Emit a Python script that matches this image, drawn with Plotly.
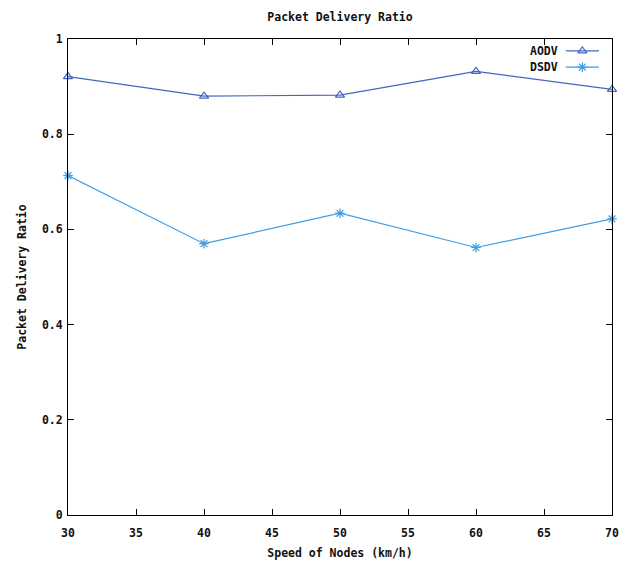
import plotly.graph_objects as go

speeds = [30, 40, 50, 60, 70]
aodv = [0.921, 0.880, 0.882, 0.932, 0.894]
dsdv = [0.713, 0.570, 0.634, 0.562, 0.622]
x_ticks = [30, 35, 40, 45, 50, 55, 60, 65, 70]
y_ticks = [0, 0.2, 0.4, 0.6, 0.8, 1]
y_tick_text = ["0", "0.2", "0.4", "0.6", "0.8", "1"]
legend_names = ["AODV", "DSDV"]

AODV_C = "#4466c0"
DSDV_C = "#3d9ee6"
FONT = dict(family="DejaVu Sans Mono", size=11.5, color="#111111", weight="bold")

fig = go.Figure()
fig.add_trace(go.Scatter(x=speeds, y=aodv, mode="lines+markers", name="AODV",
                         line=dict(color=AODV_C, width=1.2),
                         marker=dict(symbol="triangle-up-open", size=8, color=AODV_C, line=dict(width=1.2)),
                         showlegend=False, cliponaxis=False))
fig.add_trace(go.Scatter(x=speeds, y=dsdv, mode="lines+markers", name="DSDV",
                         line=dict(color=DSDV_C, width=1.2),
                         marker=dict(symbol="asterisk-open", size=8, color=DSDV_C, line=dict(width=1.2, color=DSDV_C)),
                         showlegend=False, cliponaxis=False))

# legend keys drawn on an overlay axis spanning the plot area (0..1)
leg_x = [0.915, 0.976]
leg_y = [0.975, 0.941]
symbols = ["triangle-up-open", "asterisk-open"]
colors = [AODV_C, DSDV_C]
for name, yy, sym, col in zip(legend_names, leg_y, symbols, colors):
    fig.add_trace(go.Scatter(x=leg_x, y=[yy, yy], xaxis="x2", yaxis="y2", mode="lines",
                             line=dict(color=col, width=1.2), showlegend=False, hoverinfo="skip"))
    fig.add_trace(go.Scatter(x=[sum(leg_x) / 2], y=[yy], xaxis="x2", yaxis="y2", mode="markers",
                             marker=dict(symbol=sym, size=8, color=col, line=dict(width=1.2, color=col)),
                             showlegend=False, hoverinfo="skip"))
    fig.add_annotation(text=name, x=0.904, y=yy, xref="x2", yref="y2", xanchor="right",
                       yanchor="middle", showarrow=False, font=FONT)

axis_common = dict(showgrid=False, zeroline=False, showline=True, linecolor="#000000", linewidth=1,
                   mirror="ticks", ticks="inside", ticklen=6, tickcolor="#000000", tickwidth=1,
                   tickfont=FONT, automargin=False)

L, R, T, B = 68, 17, 39, 48
fig.update_layout(
    width=629, height=563,
    margin=dict(l=L, r=R, t=T, b=B),
    paper_bgcolor="white", plot_bgcolor="white",
    font=FONT,
    title=dict(text="Packet Delivery Ratio", x=(L + 0.5 * (629 - L - R)) / 629, xanchor="center",
               y=1 - 17 / 563, yanchor="middle", font=FONT),
    xaxis=dict(range=[30, 70], tickvals=x_ticks, ticktext=[str(v) for v in x_ticks],
               ticklabelstandoff=7,
               title=dict(text="Speed of Nodes (km/h)", font=FONT, standoff=10), **axis_common),
    yaxis=dict(range=[0, 1], tickvals=y_ticks, ticktext=y_tick_text,
               ticklabelstandoff=2,
               title=dict(text="Packet Delivery Ratio", font=FONT, standoff=12), **axis_common),
    xaxis2=dict(range=[0, 1], overlaying="x", visible=False, fixedrange=True),
    yaxis2=dict(range=[0, 1], overlaying="y", visible=False, fixedrange=True),
)

fig.write_html("out.html")
